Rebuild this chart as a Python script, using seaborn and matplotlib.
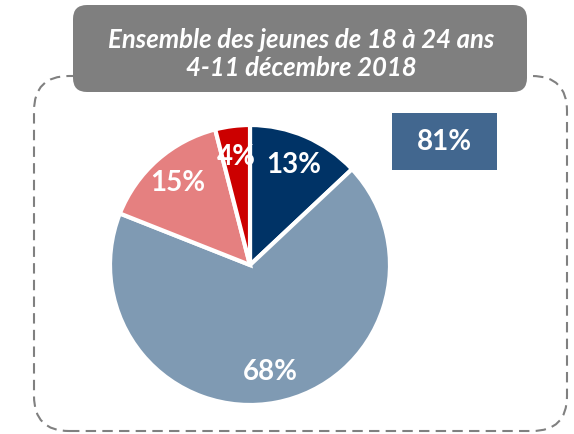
import matplotlib
matplotlib.use("Agg")
import matplotlib.pyplot as plt
from matplotlib.patches import FancyBboxPatch
import seaborn as sns

# données
parts = [13, 68, 15, 4]
labels = ["13%", "68%", "15%", "4%"]
colors = ["#003366", "#7f9ab3", "#e58080", "#cc0000"]
title_lines = ["Ensemble des jeunes de 18 à 24 ans", "4-11 décembre 2018"]
total_label = "81%"

sns.set_theme(style="white")
plt.rcParams["font.family"] = ["Lato", "DejaVu Sans"]

fig = plt.figure(figsize=(5.74, 4.34), dpi=100)
ax = fig.add_axes([0, 0, 1, 1])

wedges, texts, autotexts = ax.pie(
    parts, colors=sns.color_palette(colors), startangle=90, counterclock=False,
    center=(250, 169), radius=140, autopct="%d%%", pctdistance=0.78,
    wedgeprops=dict(edgecolor="white", linewidth=3),
    textprops=dict(color="white", fontsize=20, fontweight="bold"))
for t, lab in zip(autotexts, labels):
    t.set_text(lab)

# cadre en pointillés
ax.add_patch(FancyBboxPatch((34, 3), 533, 355,
                            boxstyle="round,pad=0,rounding_size=35",
                            fill=False, edgecolor="#808080", linewidth=1.5,
                            linestyle=(0, (5, 3)), zorder=0))
# bandeau du titre
ax.add_patch(FancyBboxPatch((73, 342), 454, 87,
                            boxstyle="round,pad=0,rounding_size=14",
                            facecolor="#7f7f7f", edgecolor="none", zorder=3))
ax.text(301, 394, title_lines[0], ha="center", va="center", color="white",
        fontsize=18.5, fontweight="bold", fontstyle="italic", zorder=4)
ax.text(301, 366, title_lines[1], ha="center", va="center", color="white",
        fontsize=18.5, fontweight="bold", fontstyle="italic", zorder=4)

# encadré 81%
ax.add_patch(FancyBboxPatch((392, 264), 105, 57, boxstyle="square,pad=0",
                            facecolor="#42678f", edgecolor="none", zorder=3))
ax.text(444.5, 292.5, total_label, ha="center", va="center", color="white",
        fontsize=20, fontweight="bold", zorder=4)

ax.set_xlim(0, 574)
ax.set_ylim(0, 434)
ax.set_aspect("equal")
ax.axis("off")

fig.savefig("out.png", dpi=100)
